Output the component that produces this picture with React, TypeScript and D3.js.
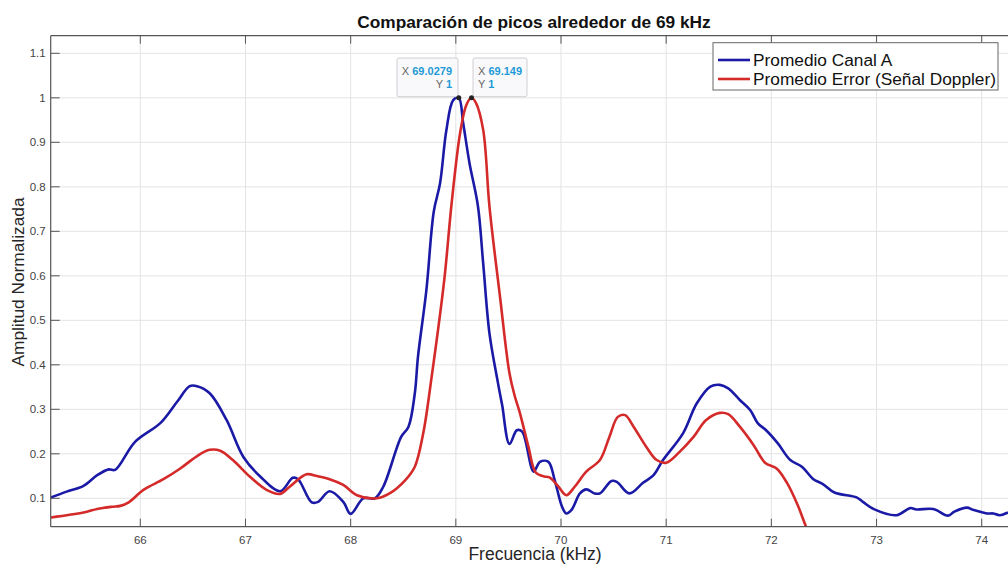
import React from 'react';
import * as d3 from 'd3';

// Promedio Canal A
const freqA = [
  65.15, 65.3, 65.46, 65.59, 65.7, 65.76, 65.95, 66.19, 66.35, 66.47, 66.54, 66.66, 66.82, 66.98,
  67.14, 67.33, 67.45, 67.5, 67.63, 67.69, 67.8, 67.93, 68.0, 68.12, 68.23, 68.31, 68.48, 68.55,
  68.61, 68.64, 68.72, 68.79, 68.85, 68.91, 68.975, 69.0279, 69.07, 69.13, 69.21, 69.26, 69.32,
  69.4, 69.44, 69.51, 69.58, 69.63, 69.74, 69.8, 69.88, 69.94, 70.01, 70.05, 70.1, 70.18, 70.24,
  70.32, 70.37, 70.48, 70.53, 70.65, 70.78, 70.88, 70.97, 71.16, 71.29, 71.42, 71.51, 71.59,
  71.7, 71.8, 71.87, 71.95, 72.06, 72.18, 72.29, 72.4, 72.49, 72.6, 72.81, 72.87, 72.98, 73.19,
  73.32, 73.38, 73.54, 73.68, 73.74, 73.86, 73.92, 74.05, 74.11, 74.17, 74.25
];
const ampA = [
  0.102, 0.115, 0.128, 0.152, 0.165, 0.164, 0.227, 0.269, 0.317, 0.352, 0.352, 0.336, 0.276, 0.193,
  0.149, 0.116, 0.146, 0.143, 0.091, 0.092, 0.116, 0.092, 0.065, 0.1, 0.1, 0.126, 0.238, 0.261,
  0.336, 0.418, 0.568, 0.744, 0.808, 0.927, 0.995, 1.0, 0.943, 0.853, 0.757, 0.628, 0.47,
  0.36, 0.31, 0.222, 0.253, 0.25, 0.16, 0.182, 0.182, 0.141, 0.081, 0.066, 0.074, 0.111, 0.12,
  0.111, 0.111, 0.139, 0.137, 0.111, 0.135, 0.152, 0.186, 0.246, 0.313, 0.351, 0.355, 0.347,
  0.321, 0.298, 0.269, 0.253, 0.224, 0.186, 0.171, 0.143, 0.132, 0.113, 0.102, 0.092, 0.075, 0.062,
  0.078, 0.075, 0.076, 0.061, 0.07, 0.079, 0.074, 0.066, 0.066, 0.062, 0.068
];

// Promedio Error (Señal Doppler)
const freqB = [
  65.15, 65.46, 65.59, 65.73, 65.81, 65.89, 66.03, 66.22, 66.38, 66.54, 66.66, 66.76, 66.88, 67.04,
  67.2, 67.33, 67.42, 67.58, 67.68, 67.8, 67.93, 68.06, 68.25, 68.37, 68.52, 68.61, 68.69, 68.77,
  68.89, 68.96, 69.04, 69.1, 69.149, 69.19, 69.26, 69.32, 69.42, 69.51, 69.56, 69.61, 69.69,
  69.76, 69.84, 69.89, 69.97, 70.05, 70.13, 70.24, 70.37, 70.46, 70.54, 70.61, 70.69, 70.81,
  70.91, 71.0, 71.13, 71.26, 71.38, 71.51, 71.59, 71.7, 71.83, 71.94, 72.05, 72.15, 72.25, 72.33,
  72.4
];
const ampB = [
  0.057, 0.068, 0.076, 0.081, 0.083, 0.091, 0.119, 0.143, 0.167, 0.195, 0.209, 0.207, 0.186, 0.149,
  0.119, 0.11, 0.126, 0.154, 0.15, 0.143, 0.13, 0.107, 0.1, 0.111, 0.141, 0.171, 0.246, 0.373,
  0.591, 0.763, 0.92, 0.984, 1.0, 0.989, 0.928, 0.755, 0.553, 0.381, 0.33, 0.291, 0.216,
  0.158, 0.149, 0.147, 0.128, 0.107, 0.126, 0.16, 0.186, 0.238, 0.283, 0.287, 0.261, 0.216,
  0.186, 0.18, 0.205, 0.238, 0.276, 0.292, 0.289, 0.261, 0.22, 0.18, 0.167, 0.134, 0.085, 0.036,
  0.0
];

const xTicks = [66, 67, 68, 69, 70, 71, 72, 73, 74];
const yTicks = [0.1, 0.2, 0.3, 0.4, 0.5, 0.6, 0.7, 0.8, 0.9, 1, 1.1];
const seriesNames = ['Promedio Canal A', 'Promedio Error (Señal Doppler)'];
const seriesColors = ['#1a1aa6', '#d42a2a'];
const tipA = { x: 69.0279, y: 1 };
const tipB = { x: 69.149, y: 1 };

const W = 1008;
const H = 567;
const left = 50.7;
const right = 1008;
const top = 35.7;
const bottom = 526.7;
const font = "'Liberation Sans', Arial, Helvetica, sans-serif";

export default function App() {
  const x = d3.scaleLinear().domain([65.148, 74.25]).range([left, right]);
  const y = d3.scaleLinear().domain([0.0362, 1.1396]).range([bottom, top]);

  const line = d3
    .line<[number, number]>()
    .x(d => x(d[0]))
    .y(d => y(d[1]))
    .curve(d3.curveCatmullRom.alpha(0.5));

  const dataA = freqA.map((f, i) => [f, ampA[i]] as [number, number]);
  const dataB = freqB.map((f, i) => [f, ampB[i]] as [number, number]);

  const axisColor = '#555';
  const tickColor = '#444';

  return (
    <svg
      width={W}
      height={H}
      style={{ position: 'fixed', left: 0, top: 0, background: '#fff' }}
      fontFamily={font}
    >
      <defs>
        <clipPath id="plot">
          <rect x={left} y={top} width={right - left} height={bottom - top} />
        </clipPath>
      </defs>

      {/* grid */}
      {xTicks.map(t => (
        <line key={'gx' + t} x1={x(t)} x2={x(t)} y1={top} y2={bottom} stroke="#e3e3e3" strokeWidth={1} />
      ))}
      {yTicks.map(t => (
        <line key={'gy' + t} x1={left} x2={right} y1={y(t)} y2={y(t)} stroke="#e3e3e3" strokeWidth={1} />
      ))}

      {/* lines */}
      <g clipPath="url(#plot)">
        <path d={line(dataA) || ''} fill="none" stroke={seriesColors[0]} strokeWidth={2.6} strokeLinejoin="round" />
        <path d={line(dataB) || ''} fill="none" stroke={seriesColors[1]} strokeWidth={2.6} strokeLinejoin="round" />
      </g>

      {/* axes frame */}
      <line x1={left} x2={right} y1={bottom} y2={bottom} stroke={axisColor} strokeWidth={1.2} />
      <line x1={left} x2={right} y1={top} y2={top} stroke={axisColor} strokeWidth={1.2} />
      <line x1={left} x2={left} y1={top} y2={bottom} stroke={axisColor} strokeWidth={1.2} />

      {xTicks.map(t => (
        <g key={'tx' + t}>
          <line x1={x(t)} x2={x(t)} y1={bottom} y2={bottom - 8} stroke={axisColor} />
          <line x1={x(t)} x2={x(t)} y1={top} y2={top + 8} stroke={axisColor} />
          <text x={x(t)} y={bottom + 17} textAnchor="middle" fontSize={11.5} fill={tickColor}>
            {t}
          </text>
        </g>
      ))}
      {yTicks.map(t => (
        <g key={'ty' + t}>
          <line x1={left} x2={left + 9} y1={y(t)} y2={y(t)} stroke={axisColor} />
          <text x={left - 5} y={y(t) + 4} textAnchor="end" fontSize={11.5} fill={tickColor}>
            {d3.format('~g')(t)}
          </text>
        </g>
      ))}

      {/* titles */}
      <text x={534} y={28} textAnchor="middle" fontSize={17.3} fontWeight="bold" fill="#111">
        Comparación de picos alrededor de 69 kHz
      </text>
      <text x={535} y={560} textAnchor="middle" fontSize={17.5} fill="#262626">
        Frecuencia (kHz)
      </text>
      <text
        transform={`translate(24, 282) rotate(-90)`}
        textAnchor="middle"
        fontSize={17.3}
        fill="#262626"
      >
        Amplitud Normalizada
      </text>

      {/* legend */}
      <rect x={713} y={42.7} width={285} height={47.3} fill="#fff" stroke="#666" strokeWidth={1} />
      {seriesNames.map((n, i) => (
        <g key={n}>
          <line x1={718} x2={750} y1={60 + i * 19} y2={60 + i * 19} stroke={seriesColors[i]} strokeWidth={2.6} />
          <text x={753} y={66 + i * 19} fontSize={17.3} fill="#111">
            {n}
          </text>
        </g>
      ))}

      {/* data tips */}
      <rect x={397} y={58} width={61} height={38.7} rx={2} fill="#f9f9fb" stroke="#cfcfd4" />
      <text x={452} y={75} textAnchor="end" fontSize={11} fill="#666">
        X <tspan fill="#1f9ad6" fontWeight="bold">{tipA.x}</tspan>
      </text>
      <text x={452} y={88} textAnchor="end" fontSize={11} fill="#666">
        Y <tspan fill="#1f9ad6" fontWeight="bold">{tipA.y}</tspan>
      </text>
      <rect x={473} y={58} width={54} height={38.7} rx={2} fill="#f9f9fb" stroke="#cfcfd4" />
      <text x={478} y={75} fontSize={11} fill="#666">
        X <tspan fill="#1f9ad6" fontWeight="bold">{tipB.x}</tspan>
      </text>
      <text x={478} y={88} fontSize={11} fill="#666">
        Y <tspan fill="#1f9ad6" fontWeight="bold">{tipB.y}</tspan>
      </text>
      <circle cx={x(tipA.x)} cy={y(tipA.y)} r={2.5} fill="#222" />
      <circle cx={x(tipB.x)} cy={y(tipB.y)} r={2.5} fill="#222" />
    </svg>
  );
}
